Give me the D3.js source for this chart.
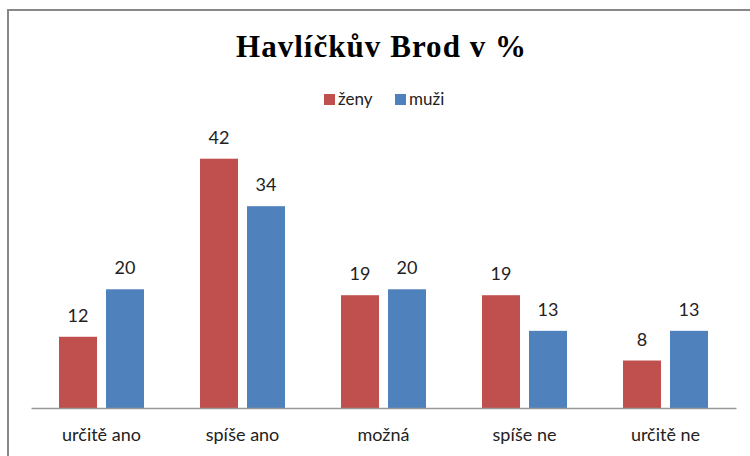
<!DOCTYPE html>
<html>
<head>
<meta charset="utf-8">
<script src="https://cdn.jsdelivr.net/npm/d3@7"></script>
<style>
  body { margin: 0; background: #fff; }
  text { font-family: Lato, "Open Sans", sans-serif; fill: #222; }
</style>
</head>
<body>
<svg id="chart" width="750" height="456"></svg>
<script>
var categories = ['určitě ano', 'spíše ano', 'možná', 'spíše ne', 'určitě ne'];
var seriesNames = ['ženy', 'muži'];
var zeny = [12, 42, 19, 19, 8];
var muzi = [20, 34, 20, 13, 13];
var colors = ['#c0504d', '#4f81bd'];

var svg = d3.select('#chart');

// outer frame (only top and left edges visible in the crop)
svg.append('path')
    .attr('d', 'M8,456 L8,10 L750,10')
    .attr('fill', 'none')
    .attr('stroke', '#888')
    .attr('stroke-width', 2);

svg.append('text')
    .attr('x', 381)
    .attr('y', 57)
    .attr('text-anchor', 'middle')
    .attr('textLength', 290)
    .attr('lengthAdjust', 'spacing')
    .style('font-family', '"Liberation Serif", "Times New Roman", serif')
    .style('font-weight', 'bold')
    .style('font-size', '31px')
    .style('fill', '#000')
    .text('Havlíčkův Brod v %');

// legend
var legend = svg.append('g').selectAll('g').data(seriesNames)
    .enter().append('g')
    .attr('transform', function(d, i) { return 'translate(' + (324 + i * 71) + ',94)'; });
legend.append('rect')
    .attr('width', 11).attr('height', 11)
    .attr('fill', function(d, i) { return colors[i]; });
legend.append('text')
    .attr('x', 14).attr('y', 11)
    .style('font-size', '17px')
    .text(function(d) { return d; });

var x = d3.scaleBand().domain(categories).range([31, 736]);
var y = d3.scaleLinear().domain([0, 42]).range([408, 158.7]);
var barW = 38, gap = 9;

var rows = categories.map(function(c, i) {
  return [{cat: c, v: zeny[i], s: 0}, {cat: c, v: muzi[i], s: 1}];
});
var bars = [].concat.apply([], rows);

function barX(d) {
  var c = x(d.cat) + x.bandwidth() / 2;
  return d.s === 0 ? c - gap / 2 - barW : c + gap / 2;
}

svg.append('g').selectAll('rect').data(bars)
    .enter().append('rect')
    .attr('x', barX)
    .attr('y', function(d) { return y(d.v); })
    .attr('width', barW)
    .attr('height', function(d) { return y(0) - y(d.v); })
    .attr('fill', function(d) { return colors[d.s]; });

svg.append('g').selectAll('text').data(bars)
    .enter().append('text')
    .attr('x', function(d) { return barX(d) + barW / 2; })
    .attr('y', function(d) { return y(d.v) - 15; })
    .attr('text-anchor', 'middle')
    .style('font-size', '18px')
    .text(function(d) { return d.v; });

// category axis
var axis = svg.append('g')
    .attr('transform', 'translate(0,' + y(0) + ')')
    .call(d3.axisBottom(x).tickSize(0).tickPadding(20));
axis.select('.domain').attr('stroke', '#999').attr('stroke-width', 1.5);
axis.selectAll('text')
    .style('font-family', 'Lato, "Open Sans", sans-serif')
    .style('font-size', '18px')
    .style('fill', '#222');
</script>
</body>
</html>
